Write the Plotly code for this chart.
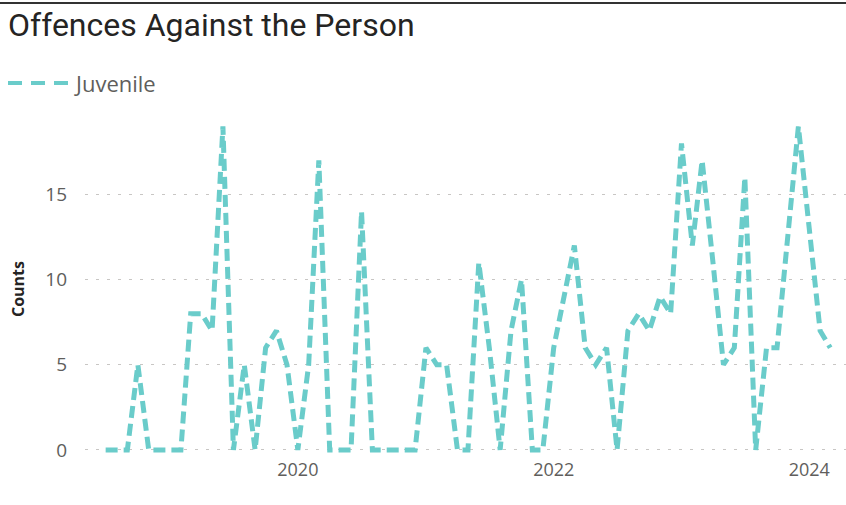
import pandas as pd
import plotly.graph_objects as go

# Monthly counts, Jul 2018 .. Mar 2024
months = pd.date_range("2018-07-01", "2024-03-01", freq="MS")
juvenile = [
    0, 0, 0, 5, 0, 0,                          # 2018 Jul-Dec
    0, 0, 8, 8, 7, 19, 0, 5, 0, 6, 7, 5,       # 2019
    0, 5, 17, 0, 0, 0, 14, 0, 0, 0, 0, 0,      # 2020
    6, 5, 5, 0, 0, 11, 6, 0, 7, 10, 0, 0,      # 2021
    6, 9, 12, 6, 5, 6, 0, 7, 8, 7, 9, 8,       # 2022
    18, 12, 17, 11, 5, 6, 16, 0, 6, 6, 13, 19, # 2023
    13, 7, 6,                                  # 2024 Jan-Mar
]
y_ticks = [0, 5, 10, 15]
x_ticks = ["2020-01-01", "2022-01-01", "2024-01-01"]
x_tick_labels = ["2020", "2022", "2024"]

teal = "#6ACCCA"
grey = "#605E5C"

# plot area in window pixels: x 85..846, y 123..455
W, H = 846, 505
L, T, R, B = 85, 123, 0, 50
PW, PH = W - L - R, H - T - B

def px_x(x):
    return (x - L) / PW

def px_y(y):
    return (H - B - y) / PH

fig = go.Figure()
fig.add_trace(go.Scatter(
    x=months, y=juvenile, mode="lines", name="Juvenile",
    line=dict(color=teal, width=5, dash="12px,6px"),
))

fig.update_layout(
    width=W, height=H,
    margin=dict(l=L, r=R, t=T, b=B, autoexpand=False),
    paper_bgcolor="white", plot_bgcolor="white",
    title=dict(text="Offences Against the Person", x=8 / W, xanchor="left",
               y=1 - 25 / H, yanchor="middle", pad=dict(l=0),
               font=dict(family="Roboto", size=32, color="#252423")),
    showlegend=False,
    font=dict(family="Open Sans", color=grey),
)

fig.update_xaxes(
    type="date", range=["2018-05-03", "2024-04-15"],
    tickvals=x_ticks, ticktext=x_tick_labels,
    showgrid=False, showline=False, zeroline=False, ticks="",
    ticklabelstandoff=2, automargin=False,
    tickfont=dict(size=18, color=grey),
)
fig.update_yaxes(
    range=[-0.3, 19.2], tickvals=y_ticks,
    showgrid=True, gridcolor="#C8C6C4", gridwidth=1, griddash="3px,8px",
    showline=False, zeroline=False, ticks="", ticklabelstandoff=17,
    automargin=False,
    tickfont=dict(size=19, color=grey),
    title=dict(text="<b>Counts</b>", standoff=16,
               font=dict(family="Open Sans", size=16, color="#252423")),
)

# legend drawn by hand so the dashed sample has the reference length
fig.add_shape(type="line", xref="paper", yref="paper",
              x0=px_x(8), x1=px_x(70), y0=px_y(83), y1=px_y(83),
              line=dict(color=teal, width=4, dash="14px,9px"))
fig.add_annotation(text="Juvenile", xref="paper", yref="paper",
                   x=px_x(72), y=px_y(83), xanchor="left", yanchor="middle",
                   showarrow=False, font=dict(family="Open Sans", size=22, color=grey))

# dark frame line along the top of the visual
fig.add_shape(type="line", xref="paper", yref="paper",
              x0=px_x(0), x1=1, y0=px_y(3), y1=px_y(3),
              line=dict(color="#333333", width=2))

# drop the default 8px body margin so the figure fills the window
fig.write_html("out.html", config={"displayModeBar": False},
               post_script="document.body.style.margin='0';")
